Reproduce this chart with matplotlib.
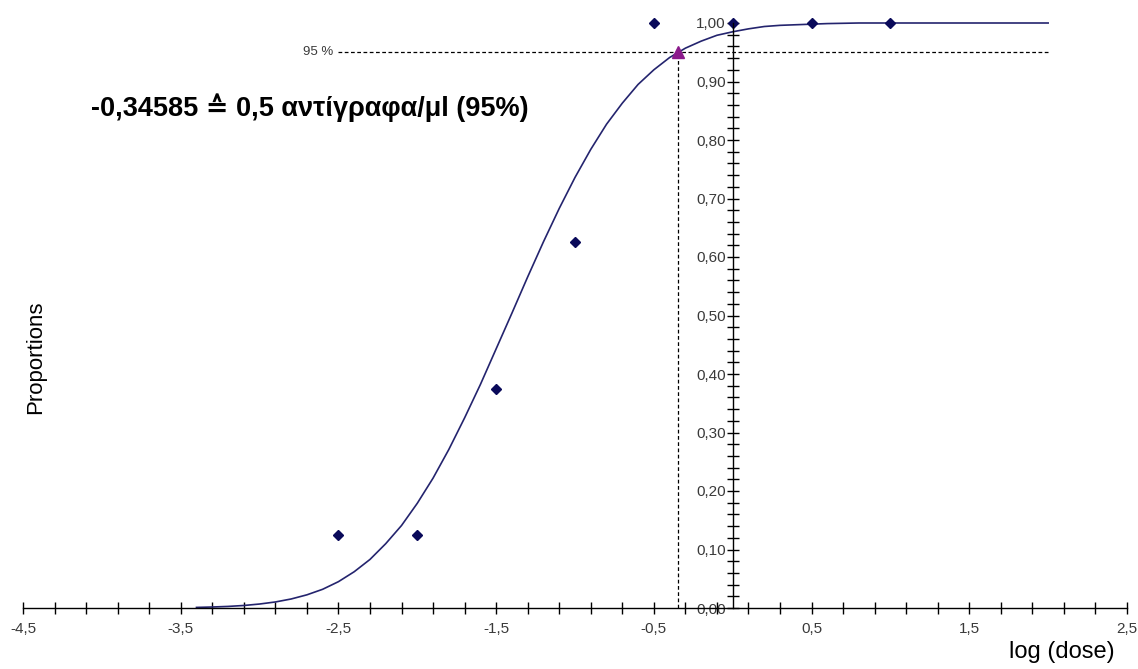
import numpy as np
import matplotlib.pyplot as plt

# Données
dose_log = [-2.5, -2.0, -1.5, -1.0, -0.5, 0.0, 0.5, 1.0]
proportions = [0.125, 0.125, 0.375, 0.625, 1.0, 1.0, 1.0, 1.0]

courbe_x = [-3.4, -3.3, -3.2, -3.1, -3.0, -2.9, -2.8, -2.7, -2.6, -2.5, -2.4,
            -2.3, -2.2, -2.1, -2.0, -1.9, -1.8, -1.7, -1.6, -1.5, -1.4, -1.3,
            -1.2, -1.1, -1.0, -0.9, -0.8, -0.7, -0.6, -0.5, -0.4, -0.3, -0.2,
            -0.1, 0.0, 0.1, 0.2, 0.3, 0.4, 0.5, 0.6, 0.8, 1.0, 1.5, 2.0]
courbe_y = [0.001, 0.0017, 0.0027, 0.0043, 0.0068, 0.0103, 0.0154, 0.0225,
            0.032, 0.045, 0.062, 0.083, 0.110, 0.141, 0.179, 0.222, 0.271,
            0.325, 0.382, 0.443, 0.504, 0.566, 0.626, 0.683, 0.736, 0.784,
            0.827, 0.863, 0.895, 0.920, 0.941, 0.957, 0.969, 0.979, 0.985,
            0.990, 0.994, 0.996, 0.997, 0.998, 0.999, 1.0, 1.0, 1.0, 1.0]

x95 = -0.34585
y95 = 0.95
ligne_95_debut = -2.5
ligne_95_fin = 2.0

x_labels = [-4.5, -3.5, -2.5, -1.5, -0.5, 0.5, 1.5, 2.5]

plt.rcParams['font.family'] = ['Liberation Sans', 'DejaVu Sans']

W, H = 1138, 669
fig = plt.figure(figsize=(W / 100, H / 100), dpi=100)
# axe x : -4.5 -> px 23, 2.5 -> px 1127 ; axe y : 0 -> px 608, 1.0 -> px 23
ymax = 1.02
px_par_unite = 585.0
ax = fig.add_axes([23 / W, (H - 608) / H, 1104 / W, ymax * px_par_unite / H])
ax.set_xlim(-4.5, 2.5)
ax.set_ylim(0, ymax)

# axes en croix
for s in ['top', 'right']:
    ax.spines[s].set_visible(False)
ax.spines['left'].set_position(('data', 0))
ax.spines['bottom'].set_position(('data', 0))
ax.spines['left'].set_bounds(0, 1.0)
for s in ['left', 'bottom']:
    ax.spines[s].set_color('black')
    ax.spines[s].set_linewidth(1.0)

xt = np.round(np.arange(-4.5, 2.51, 0.2), 2)
xt = np.unique(np.round(np.append(xt, x_labels), 2))
ax.set_xticks(xt)
ax.set_xticklabels([str(v).replace('.', ',') if v in x_labels else '' for v in xt])
yt = np.round(np.arange(0, 1.001, 0.02), 2)
ax.set_yticks(yt)
ax.set_yticklabels([('%.2f' % v).replace('.', ',') if round(v * 10, 6) % 1 == 0 else '' for v in yt])
ax.tick_params(axis='both', direction='inout', length=8, width=1.0,
               labelsize=11, labelcolor='#3a3a3a', color='black')
ax.tick_params(axis='x', pad=6)
ax.tick_params(axis='y', pad=1)

# lignes pointillées 95 %
ax.plot([ligne_95_debut, ligne_95_fin], [y95, y95], ls=(0, (3, 2)), color='black', lw=0.9)
ax.plot([x95, x95], [0, y95], ls=(0, (3, 2)), color='black', lw=0.9)
ax.text(ligne_95_debut - 0.03, y95, '95 %', ha='right', va='center', fontsize=9.5, color='#3a3a3a')

# courbe et points
ax.plot(courbe_x, courbe_y, color='#24246e', lw=1.2)
ax.plot(dose_log, proportions, 'D', color='#0a0a5a', ms=5, clip_on=False)
ax.plot([x95], [y95], '^', color='#8b1a8b', ms=8, clip_on=False)

ax.text(-4.07, 0.855, '-0,34585 \u2259 0,5 \u03b1\u03bd\u03c4\u03af\u03b3\u03c1\u03b1\u03c6\u03b1/\u03bcl (95%)',
        fontsize=19.5, fontweight='bold', ha='left', va='center')

fig.text(36 / W, 1 - 357 / H, 'Proportions', rotation=90, ha='center', va='center', fontsize=16)
fig.text(1062 / W, 1 - 652 / H, 'log (dose)', ha='center', va='center', fontsize=17)

fig.savefig('out.png', dpi=100)
